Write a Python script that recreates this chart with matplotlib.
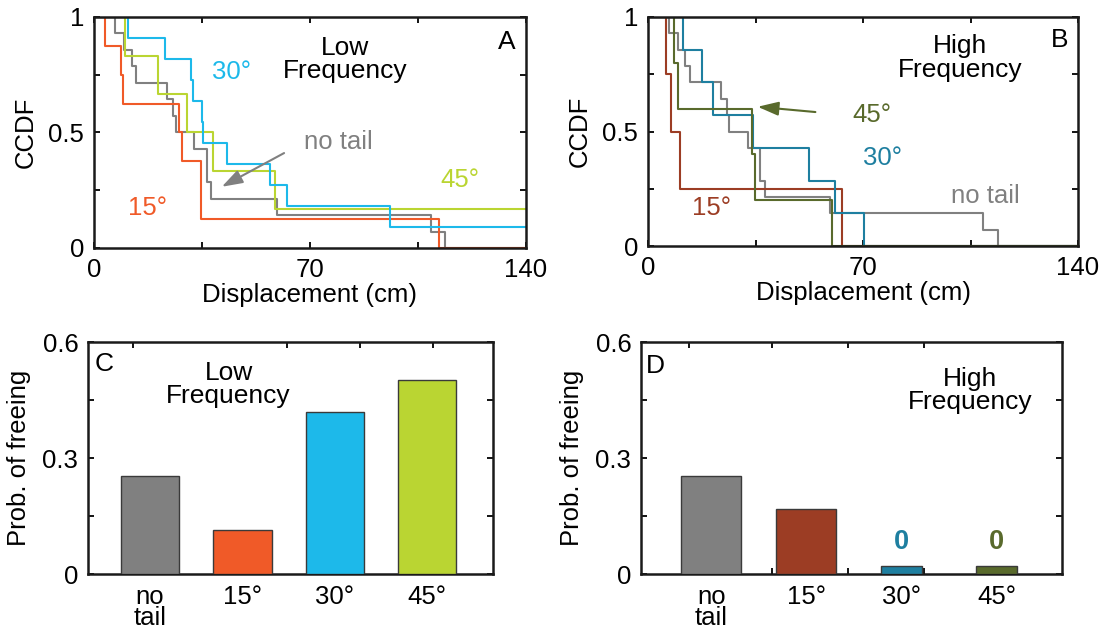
import numpy as np
import matplotlib
matplotlib.use('Agg')
import matplotlib.pyplot as plt

plt.rcParams['font.family'] = ['Liberation Sans', 'DejaVu Sans']

# ---- CCDF data (displacement in cm where the curve drops, level after the drop)
notail_x = [6.9, 9.8, 12.2, 13.6, 23.8, 25.6, 26.5, 32.5, 36.6, 38.0, 59.2, 109.2, 113.8]
notail_y = [0.929, 0.857, 0.786, 0.714, 0.643, 0.571, 0.5, 0.429, 0.286, 0.214, 0.143, 0.071, 0.0]

low15_x = [3.6, 8.7, 9.5, 27.6, 28.6, 34.6, 111.9]
low15_y = [0.875, 0.75, 0.625, 0.5, 0.375, 0.125, 0.0]
low30_x = [10.9, 23.0, 31.5, 32.0, 34.9, 35.4, 43.2, 57.0, 62.4, 95.9]
low30_y = [0.909, 0.818, 0.727, 0.636, 0.545, 0.455, 0.364, 0.273, 0.182, 0.091]
low45_x = [10.0, 20.8, 30.0, 38.7, 58.5]
low45_y = [0.833, 0.667, 0.5, 0.333, 0.167]

high15_x = [5.7, 7.6, 10.3, 63.0]
high15_y = [0.75, 0.5, 0.25, 0.0]
high30_x = [11.4, 17.6, 21.2, 34.2, 52.4, 61.0, 70.3]
high30_y = [0.857, 0.714, 0.571, 0.429, 0.286, 0.143, 0.0]
high45_x = [8.5, 9.8, 33.7, 34.7, 59.9]
high45_y = [0.8, 0.6, 0.4, 0.2, 0.0]

# ---- probability of freeing
bar_labels = ['no\ntail', '15°', '30°', '45°']
low_prob = [0.254, 0.113, 0.42, 0.502]
high_prob = [0.254, 0.168, 0.0, 0.0]

c_gray = '#808080'
c_low = ['#808080', '#F05A28', '#1DB9EA', '#BAD532']
c_high = ['#808080', '#9C3D24', '#1E7FA0', '#596A2C']

FS = 18.5   # axis + tick labels
FA = 19     # in-panel titles
FC = 18.5   # coloured curve labels

W, H = 1101, 631
fig = plt.figure(figsize=(W / 100, H / 100), dpi=100)


def box(l, r, t, b):
    return fig.add_axes([l / W, 1 - b / H, (r - l) / W, (b - t) / H])


def style(ax):
    for s in ax.spines.values():
        s.set_linewidth(1.8)
        s.set_color('#1a1a1a')
    ax.tick_params(direction='in', length=4, width=1.3, top=True, right=True,
                   labelsize=FS, pad=7)


def ccdf(ax, xs, ys, color):
    x = np.concatenate([[0], xs, [140]])
    y = np.concatenate([[1], ys, [ys[-1]]])
    ax.step(x, y, where='post', color=color, lw=1.5)


def ccdf_axes(ax):
    style(ax)
    ax.set_xlim(0, 140)
    ax.set_ylim(0, 1)
    ax.set_xticks([0, 35, 70, 105, 140], ['0', '', '70', '', '140'])
    ax.set_yticks([0, 0.25, 0.5, 0.75, 1], ['0', '', '0.5', '', '1'])
    ax.set_xlabel('Displacement (cm)', fontsize=FS, labelpad=1)
    ax.set_ylabel('CCDF', fontsize=FS, labelpad=8)


# ---- A
axA = box(94, 526, 17, 248)
ccdf(axA, notail_x, notail_y, c_low[0])
ccdf(axA, low45_x, low45_y, c_low[3])
ccdf(axA, low15_x, low15_y, c_low[1])
ccdf(axA, low30_x, low30_y, c_low[2])
ccdf_axes(axA)
axA.text(81.3, 0.814, 'Low\nFrequency', fontsize=FA, ha='center', va='center', linespacing=0.95)
axA.text(136.5, 0.89, 'A', fontsize=FA, ha='right', va='center')
axA.text(44.7, 0.762, '30°', fontsize=FC, color=c_low[2], ha='center', va='center')
axA.text(79.1, 0.459, 'no tail', fontsize=FC, color=c_gray, ha='center', va='center')
axA.text(118.6, 0.294, '45°', fontsize=FC, color=c_low[3], ha='center', va='center')
axA.text(17.2, 0.173, '15°', fontsize=FC, color=c_low[1], ha='center', va='center')
axA.annotate('', xy=(41.4, 0.265), xytext=(61.6, 0.411),
             arrowprops=dict(arrowstyle='-|>,head_length=0.9,head_width=0.3',
                             color=c_gray, lw=1.5, mutation_scale=14, shrinkA=0, shrinkB=0))

# ---- B
axB = box(648, 1078, 17, 246)
ccdf(axB, notail_x, notail_y, c_high[0])
ccdf(axB, high15_x, high15_y, c_high[1])
ccdf(axB, high30_x, high30_y, c_high[2])
ccdf(axB, high45_x, high45_y, c_high[3])
ccdf_axes(axB)
axB.text(101.5, 0.821, 'High\nFrequency', fontsize=FA, ha='center', va='center', linespacing=0.95)
axB.text(137, 0.9, 'B', fontsize=FA, ha='right', va='center')
axB.text(72.8, 0.572, '45°', fontsize=FC, color=c_high[3], ha='center', va='center')
axB.text(76.4, 0.384, '30°', fontsize=FC, color=c_high[2], ha='center', va='center')
axB.text(110, 0.218, 'no tail', fontsize=FC, color=c_gray, ha='center', va='center')
axB.text(20.7, 0.166, '15°', fontsize=FC, color=c_high[1], ha='center', va='center')
axB.annotate('', xy=(35.7, 0.608), xytext=(54.5, 0.585),
             arrowprops=dict(arrowstyle='-|>,head_length=0.9,head_width=0.3',
                             color=c_high[3], lw=1.5, mutation_scale=14, shrinkA=0, shrinkB=0))


def bar_axes(ax, probs, colors, widths, xlim):
    pos = np.arange(1, len(probs) + 1)
    shown = np.maximum(probs, 0.02)  # zero bars drawn as a thin stub
    ax.bar(pos, shown, width=widths, color=colors, edgecolor='#3a3a3a', lw=1.0, zorder=3)
    style(ax)
    ax.set_xlim(*xlim)
    ax.set_ylim(0, 0.6)
    ax.set_yticks([0, 0.15, 0.3, 0.45, 0.6], ['0', '', '0.3', '', '0.6'])
    ax.set_xticks(pos)
    ax.set_xticklabels(bar_labels, linespacing=0.85, va='top')
    ax.tick_params(axis='x', length=0, pad=8)
    ax.set_ylabel('Prob. of freeing', fontsize=FS, labelpad=8)
    return pos


# ---- C
axC = box(88, 493, 342, 574)
bar_axes(axC, low_prob, c_low, 0.63, (0.33, 4.71))
axC.set_xticks([0.82, 2.48, 3.27, 4.06], minor=True)
axC.tick_params(axis='x', which='minor', direction='in', length=4, width=1.3,
                top=True, bottom=False)
axC.text(0.5, 0.542, 'C', fontsize=FA, ha='center', va='center')
axC.text(1.85, 0.49, 'Low\nFrequency', fontsize=FA, ha='center', va='center', linespacing=0.95)

# ---- D
axD = box(641, 1062, 342, 574)
posD = bar_axes(axD, high_prob, c_high, [0.63, 0.63, 0.43, 0.43], (0.26, 4.69))
axD.set_xticks([0.76, 1.64, 2.44, 3.24], minor=True)
axD.tick_params(axis='x', which='minor', direction='in', length=4, width=1.3,
                top=True, bottom=True)
axD.text(0.41, 0.537, 'D', fontsize=FA, ha='center', va='center')
axD.text(3.72, 0.475, 'High\nFrequency', fontsize=FA, ha='center', va='center', linespacing=0.95)
for p, v, c in zip(posD, high_prob, c_high):
    if v == 0:
        axD.text(p, 0.084, '0', fontsize=19.5, fontweight='bold', color=c, ha='center', va='center')

fig.savefig('out.png', dpi=100)
